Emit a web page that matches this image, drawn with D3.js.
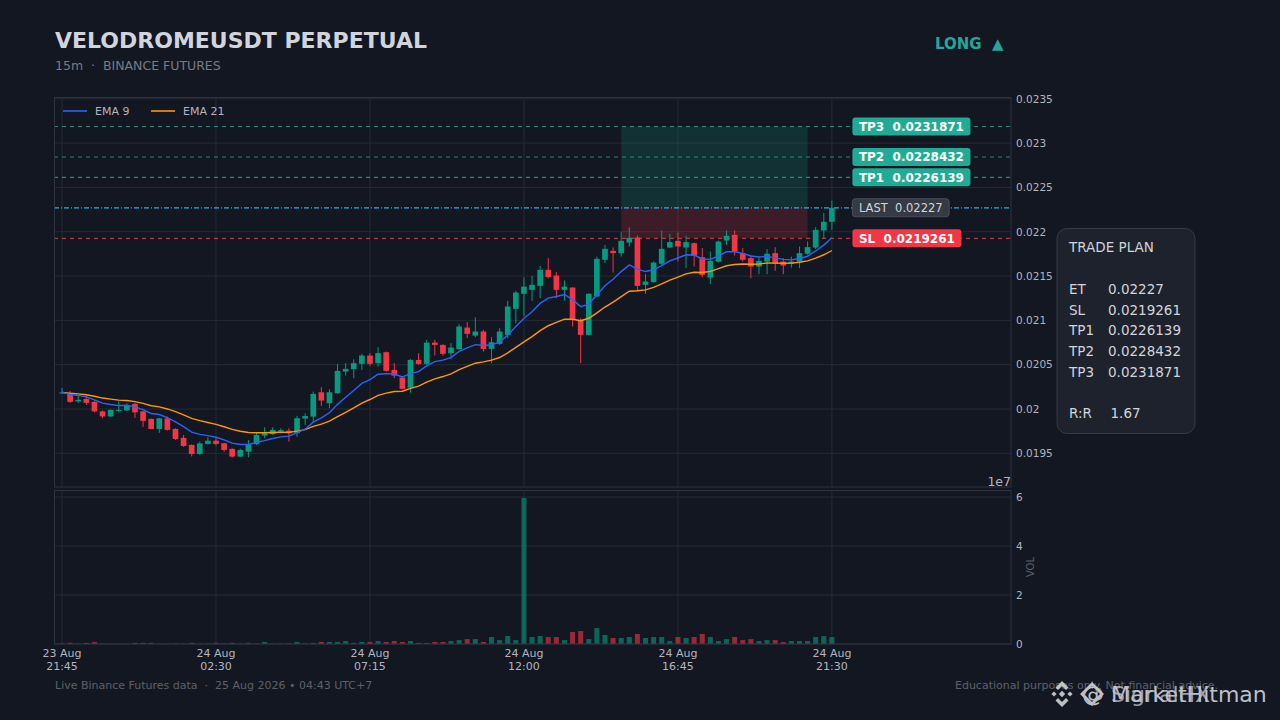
<!DOCTYPE html>
<html><head><meta charset="utf-8">
<script src="https://cdn.jsdelivr.net/npm/d3@7/dist/d3.min.js"></script>
<style>
html,body{margin:0;padding:0;background:#131722;}
svg{display:block;font-family:"DejaVu Sans",sans-serif;}
</style></head><body>
<svg id="c" width="1280" height="720"></svg>
<script>
// ---------- DATA ----------
const openP = [0.020176,0.020170,0.020086,0.020114,0.020080,0.019973,0.019916,0.019978,0.019984,0.020057,
0.019973,0.019888,0.019775,0.019894,0.019775,0.019674,0.019595,0.019493,0.019606,0.019643,
0.019614,0.019550,0.019463,0.019519,0.019603,0.019700,0.019715,0.019745,0.019756,0.019727,
0.019892,0.019914,0.020189,0.020065,0.020178,0.020422,0.020449,0.020509,0.020603,0.020517,
0.020641,0.020441,0.020354,0.020241,0.020554,0.020509,0.020749,0.020723,0.020630,0.020675,
0.020919,0.020828,0.020874,0.020678,0.020735,0.020836,0.021130,0.021299,0.021344,0.021389,
0.021570,0.021506,0.021344,0.021370,0.021006,0.020836,0.021269,0.021683,0.021784,0.021758,
0.021878,0.021935,0.021401,0.021431,0.021638,0.021822,0.021897,0.021822,0.021871,0.021713,
0.021483,0.021663,0.021901,0.021965,0.021758,0.021702,0.021607,0.021663,0.021758,0.021663,
0.021638,0.021663,0.021751,0.021822,0.022014,0.022112];
const highP = [0.020238,0.020204,0.020159,0.020148,0.020091,0.019984,0.019995,0.020086,0.020063,0.020069,
0.019978,0.019894,0.019899,0.019914,0.019783,0.019708,0.019600,0.019632,0.019682,0.019670,
0.019617,0.019557,0.019553,0.019651,0.019727,0.019794,0.019794,0.019783,0.019783,0.019922,
0.019952,0.020196,0.020246,0.020223,0.020509,0.020517,0.020562,0.020622,0.020630,0.020697,
0.020648,0.020517,0.020366,0.020562,0.020630,0.020780,0.020780,0.020731,0.020743,0.020957,
0.020980,0.021036,0.020893,0.020810,0.020912,0.021220,0.021333,0.021483,0.021502,0.021615,
0.021702,0.021544,0.021449,0.021375,0.021025,0.021307,0.021720,0.021852,0.021822,0.021995,
0.022052,0.021957,0.021521,0.021663,0.022014,0.021976,0.021991,0.021957,0.021878,0.021815,
0.021776,0.021901,0.022014,0.022014,0.021815,0.021739,0.021709,0.021804,0.021826,0.021702,
0.021720,0.021833,0.021889,0.022052,0.022210,0.022352];
const lowP = [0.020170,0.020069,0.020069,0.020046,0.019962,0.019894,0.019911,0.019962,0.019978,0.019899,
0.019798,0.019770,0.019730,0.019756,0.019651,0.019572,0.019465,0.019482,0.019598,0.019587,
0.019519,0.019451,0.019456,0.019456,0.019595,0.019670,0.019708,0.019727,0.019632,0.019688,
0.019820,0.019858,0.020035,0.020009,0.020170,0.020377,0.020348,0.020441,0.020486,0.020478,
0.020422,0.020348,0.020223,0.020185,0.020498,0.020498,0.020603,0.020603,0.020562,0.020667,
0.020799,0.020810,0.020648,0.020517,0.020723,0.020799,0.020968,0.021043,0.021220,0.021250,
0.021476,0.021250,0.021223,0.020930,0.020517,0.020832,0.021262,0.021646,0.021539,0.021720,
0.021833,0.021325,0.021299,0.021427,0.021626,0.021815,0.021664,0.021589,0.021607,0.021488,
0.021409,0.021652,0.021852,0.021731,0.021663,0.021476,0.021521,0.021521,0.021559,0.021521,
0.021596,0.021589,0.021739,0.021804,0.021920,0.022021];
const closeP = [0.020187,0.020080,0.020103,0.020069,0.019973,0.019916,0.019990,0.019990,0.020046,0.019962,
0.019866,0.019775,0.019894,0.019764,0.019662,0.019583,0.019493,0.019612,0.019643,0.019606,
0.019538,0.019463,0.019538,0.019603,0.019708,0.019727,0.019764,0.019761,0.019727,0.019896,
0.019922,0.020170,0.020095,0.020189,0.020430,0.020453,0.020517,0.020603,0.020509,0.020630,
0.020430,0.020377,0.020227,0.020554,0.020509,0.020749,0.020723,0.020622,0.020693,0.020930,
0.020848,0.020874,0.020678,0.020754,0.020874,0.021156,0.021314,0.021381,0.021401,0.021570,
0.021488,0.021344,0.021381,0.021006,0.020836,0.021299,0.021694,0.021807,0.021758,0.021897,
0.021931,0.021389,0.021438,0.021652,0.021807,0.021883,0.021833,0.021883,0.021728,0.021513,
0.021671,0.021889,0.021954,0.021776,0.021683,0.021607,0.021671,0.021751,0.021638,0.021618,
0.021663,0.021758,0.021826,0.022021,0.022112,0.022270];
const volume = [0.2e6,0.5e6,0.15e6,0.45e6,0.8e6,0.15e6,0.1e6,0.1e6,0.1e6,0.45e6,
0.45e6,0.45e6,0.1e6,0.1e6,0.15e6,0.2e6,0.45e6,0.1e6,0.15e6,0.45e6,
0.2e6,0.45e6,0.15e6,0.45e6,0.2e6,0.85e6,0.1e6,0.15e6,0.2e6,0.85e6,
0.2e6,0.45e6,0.85e6,0.85e6,0.85e6,1.2e6,0.45e6,0.85e6,0.85e6,1.2e6,
0.85e6,1.2e6,0.85e6,1.2e6,0.45e6,0.45e6,0.85e6,0.85e6,1.2e6,1.6e6,
2.0e6,2.0e6,0.85e6,2.85e6,1.6e6,3.25e6,1.6e6,59.6e6,2.85e6,3.25e6,
2.85e6,2.85e6,1.6e6,4.9e6,5.3e6,2.0e6,6.5e6,3.7e6,2.45e6,2.45e6,
2.85e6,4.1e6,2.45e6,2.85e6,2.85e6,1.2e6,2.85e6,2.45e6,2.85e6,4.1e6,
2.85e6,1.2e6,2.0e6,2.85e6,1.6e6,2.0e6,1.2e6,1.6e6,1.6e6,0.8e6,
1.2e6,1.2e6,1.2e6,2.85e6,3.25e6,2.85e6];

const xTickIdx = [0,19,38,57,76,95];
const xTickDate = ["23 Aug","24 Aug","24 Aug","24 Aug","24 Aug","24 Aug"];
const xTickTime = ["21:45","02:30","07:15","12:00","16:45","21:30"];
const priceTicks = [0.0195,0.02,0.0205,0.021,0.0215,0.022,0.0225,0.023,0.0235];
const volTicks = [0,2e7,4e7,6e7];
const volTickLabels = ["0","2","4","6"];

const levelNames = ["TP3","TP2","TP1","LAST","SL"];
const levelValues = [0.0231871,0.0228432,0.0226139,0.02227,0.0219261];
const levelLabels = ["TP3  0.0231871","TP2  0.0228432","TP1  0.0226139","LAST  0.02227","SL  0.0219261"];
const zoneIdx = [69,92];
const planLabels = ["ET","SL","TP1","TP2","TP3","R:R"];
const planValues = ["0.02227","0.0219261","0.0226139","0.0228432","0.0231871","1.67"];

// ---------- SETUP ----------
const svg = d3.select("#c");
const C = {bg:"#131722",grid:"#262a35",frame:"#2f3340",txt:"#b2b5be",up:"#089981",dn:"#f23645",
           tp:"#22ab94",last:"#29b6f6",ema9:"#2962ff",ema21:"#ff9800"};
svg.append("rect").attr("width",1280).attr("height",720).attr("fill",C.bg);

const n = closeP.length;
const x = d3.scaleLinear().domain([-0.99,117.1]).range([54,1011]);
const y = d3.scaleLinear().domain([0.01912,0.02352]).range([487,97]);
const yv = d3.scaleLinear().domain([0,6.245e7]).range([644,491]);
const step = x(1)-x(0);

function ema(arr, span){const k=2/(span+1);const out=[];arr.forEach((v,i)=>out.push(i?v*k+out[i-1]*(1-k):v));return out;}
const ema9 = ema(closeP,9), ema21 = ema(closeP,21);

// grids
const gp = svg.append("g");
gp.selectAll(".hg").data(priceTicks).join("line").attr("x1",54).attr("x2",1011)
  .attr("y1",d=>y(d)).attr("y2",d=>y(d)).attr("stroke",C.grid).attr("stroke-width",1);
gp.selectAll(".vg").data(xTickIdx).join("line").attr("x1",d=>x(d)).attr("x2",d=>x(d))
  .attr("y1",97).attr("y2",487).attr("stroke",C.grid);
const gv = svg.append("g");
gv.selectAll("line.h").data(volTicks).join("line").attr("x1",54).attr("x2",1011)
  .attr("y1",d=>yv(d)).attr("y2",d=>yv(d)).attr("stroke",C.grid);
gv.selectAll("line.v").data(xTickIdx).join("line").attr("class","v").attr("x1",d=>x(d)).attr("x2",d=>x(d))
  .attr("y1",491).attr("y2",644).attr("stroke",C.grid);

// trade zone
svg.append("rect").attr("x",x(zoneIdx[0])).attr("width",x(zoneIdx[1])-x(zoneIdx[0]))
  .attr("y",y(levelValues[0])).attr("height",y(levelValues[3])-y(levelValues[0]))
  .attr("fill",C.up).attr("fill-opacity",0.2);
svg.append("rect").attr("x",x(zoneIdx[0])).attr("width",x(zoneIdx[1])-x(zoneIdx[0]))
  .attr("y",y(levelValues[3])).attr("height",y(levelValues[4])-y(levelValues[3]))
  .attr("fill",C.dn).attr("fill-opacity",0.18);

// level lines
const levelColor = i => i<3?C.tp:(i===3?C.last:C.dn);
svg.selectAll(".lvl").data(levelValues).join("line").attr("x1",54).attr("x2",1011)
  .attr("y1",d=>y(d)).attr("y2",d=>y(d))
  .attr("stroke",(d,i)=>levelColor(i)).attr("stroke-opacity",(d,i)=>i===3?0.95:0.8)
  .attr("stroke-width",1.2).attr("stroke-dasharray",(d,i)=>i===3?"5,2,1,2":"4,4");

// candles
const cg = svg.append("g");
const idx = d3.range(n);
cg.selectAll("line.w").data(idx).join("line").attr("x1",i=>x(i)).attr("x2",i=>x(i))
  .attr("y1",i=>y(highP[i])).attr("y2",i=>y(lowP[i]))
  .attr("stroke",i=>closeP[i]>=openP[i]?C.up:C.dn).attr("stroke-width",1);
const bw = step*0.7;
cg.selectAll("rect.b").data(idx).join("rect").attr("x",i=>x(i)-bw/2).attr("width",bw)
  .attr("y",i=>y(Math.max(openP[i],closeP[i])))
  .attr("height",i=>Math.max(1,Math.abs(y(openP[i])-y(closeP[i]))))
  .attr("fill",i=>closeP[i]>=openP[i]?C.up:C.dn);

// EMA lines
const line = d3.line().x((d,i)=>x(i)).y(d=>y(d));
svg.append("path").attr("d",line(ema21)).attr("fill","none").attr("stroke",C.ema21).attr("stroke-width",1.4);
svg.append("path").attr("d",line(ema9)).attr("fill","none").attr("stroke",C.ema9).attr("stroke-width",1.4);

// volume bars
const vw = step*0.62;
svg.append("g").selectAll("rect").data(idx).join("rect").attr("x",i=>x(i)-vw/2).attr("width",vw)
  .attr("y",i=>yv(volume[i])).attr("height",i=>yv(0)-yv(volume[i]))
  .attr("fill",i=>closeP[i]>=openP[i]?C.up:C.dn).attr("fill-opacity",0.6);

// frames
svg.append("rect").attr("x",54.5).attr("y",97.5).attr("width",956.5).attr("height",389.5).attr("fill","none").attr("stroke",C.frame);
svg.append("rect").attr("x",54.5).attr("y",490.5).attr("width",956.5).attr("height",153.5).attr("fill","none").attr("stroke",C.frame);

// price axis labels
svg.selectAll(".pt").data(priceTicks).join("text").attr("x",1016).attr("y",d=>y(d)+3.8)
  .attr("fill",C.txt).attr("font-size",10.5).text(d=>String(+d.toFixed(4)));
// volume axis labels
svg.selectAll(".vt").data(volTicks).join("text").attr("x",1016).attr("y",d=>yv(d)+3.8)
  .attr("fill",C.txt).attr("font-size",10.5).text((d,i)=>volTickLabels[i]);
svg.append("text").attr("x",1011).attr("y",486).attr("text-anchor","end").attr("fill",C.txt)
  .attr("font-size",12.5).text("1e7");
svg.append("text").attr("transform","translate(1034,567) rotate(-90)").attr("text-anchor","middle")
  .attr("fill","#5d606b").attr("font-size",10).text("VOL");
// x labels
const xl = svg.selectAll(".xl").data(xTickIdx).join("text").attr("text-anchor","middle")
  .attr("fill",C.txt).attr("font-size",11);
xl.append("tspan").attr("x",d=>x(d)).attr("y",657).text((d,i)=>xTickDate[i]);
xl.append("tspan").attr("x",d=>x(d)).attr("y",670).text((d,i)=>xTickTime[i]);

// legend
const lg = svg.append("g").attr("font-size",11).attr("fill",C.txt);
lg.append("line").attr("x1",63).attr("x2",87).attr("y1",111).attr("y2",111).attr("stroke",C.ema9).attr("stroke-width",1.6);
lg.append("text").attr("x",95).attr("y",115).text("EMA 9");
lg.append("line").attr("x1",151).attr("x2",175).attr("y1",111).attr("y2",111).attr("stroke",C.ema21).attr("stroke-width",1.6);
lg.append("text").attr("x",183).attr("y",115).text("EMA 21");

// level labels
const lx = x(n-1)+20.5;
levelValues.forEach((v,i)=>{
  const g = svg.append("g");
  const isLast = i===3;
  const r = g.append("rect").attr("x",lx).attr("y",y(v)-9).attr("height",18).attr("rx",3)
    .attr("fill",isLast?"#363a45":levelColor(i)).attr("stroke",isLast?"#4a4e5b":"none");
  const t = g.append("text").attr("x",lx+6.5).attr("y",y(v)+4.5).attr("fill",isLast?"#d1d4dc":"#ffffff")
    .attr("font-size",isLast?11.5:12).attr("font-weight",isLast?"normal":"bold")
    .attr("xml:space","preserve").style("white-space","pre").text(levelLabels[i]);
  r.attr("width",t.node().getComputedTextLength()+13);
});

// trade plan box
svg.append("rect").attr("x",1057).attr("y",228.5).attr("width",138).attr("height",205).attr("rx",10)
  .attr("fill","#1e222d").attr("stroke","#363a45");
const tp = svg.append("g").attr("font-size",13.5).attr("fill","#d1d4dc");
tp.append("text").attr("x",1069).attr("y",252).text("TRADE PLAN");
const rowsY = [294,314.5,335,356,377,418];
planLabels.forEach((l,i)=>{
  tp.append("text").attr("x",1069).attr("y",rowsY[i]).text(l);
  tp.append("text").attr("x",i===5?1110.5:1108).attr("y",rowsY[i]).text(planValues[i]);
});

// header
svg.append("text").attr("x",55).attr("y",47.5).attr("font-size",22).attr("font-weight","bold")
  .attr("fill","#d1d4dc").text("VELODROMEUSDT PERPETUAL");
svg.append("text").attr("x",55).attr("y",70).attr("font-size",12.5).attr("fill","#787b86")
  .style("white-space","pre").text("15m  ·  BINANCE FUTURES");
svg.append("text").attr("x",935).attr("y",48.5).attr("font-size",15).attr("font-weight","bold")
  .attr("fill","#26a69a").style("white-space","pre").text("LONG  ▲");

// footer
svg.append("text").attr("x",55).attr("y",689).attr("font-size",11).attr("fill","#5d606b")
  .style("white-space","pre").text("Live Binance Futures data  ·  25 Aug 2026 • 04:43 UTC+7");
svg.append("text").attr("x",1218).attr("y",689).attr("text-anchor","end").attr("font-size",11).attr("fill","#5d606b")
  .text("Educational purposes only. Not financial advice.");

// watermark
const wm = svg.append("g").attr("fill","#dcdde2").attr("opacity",0.85);
const dia = (cx,cy,r)=>`M${cx},${cy-r}L${cx+r},${cy}L${cx},${cy+r}L${cx-r},${cy}Z`;
const bc = [1062,694];
wm.append("path").attr("d",dia(bc[0],bc[1],3.2));
wm.append("path").attr("d",dia(bc[0]-8,bc[1],2.6));
wm.append("path").attr("d",dia(bc[0]+8,bc[1],2.6));
wm.append("path").attr("d",`M${bc[0]},${bc[1]-13}L${bc[0]+6.5},${bc[1]-6.5}L${bc[0]+4},${bc[1]-4}L${bc[0]},${bc[1]-8}L${bc[0]-4},${bc[1]-4}L${bc[0]-6.5},${bc[1]-6.5}Z`);
wm.append("path").attr("d",`M${bc[0]},${bc[1]+13}L${bc[0]+6.5},${bc[1]+6.5}L${bc[0]+4},${bc[1]+4}L${bc[0]},${bc[1]+8}L${bc[0]-4},${bc[1]+4}L${bc[0]-6.5},${bc[1]+6.5}Z`);
wm.append("path").attr("d",dia(1092,694,12)+dia(1092,694,8)).attr("fill-rule","evenodd");
wm.append("text").attr("x",1082).attr("y",702).attr("font-size",22).style("white-space","pre").text("@ MarketHitman");
wm.append("text").attr("x",1111).attr("y",702).attr("font-size",22).attr("opacity",0.8).text("SignalHX");
</script>
</body></html>
